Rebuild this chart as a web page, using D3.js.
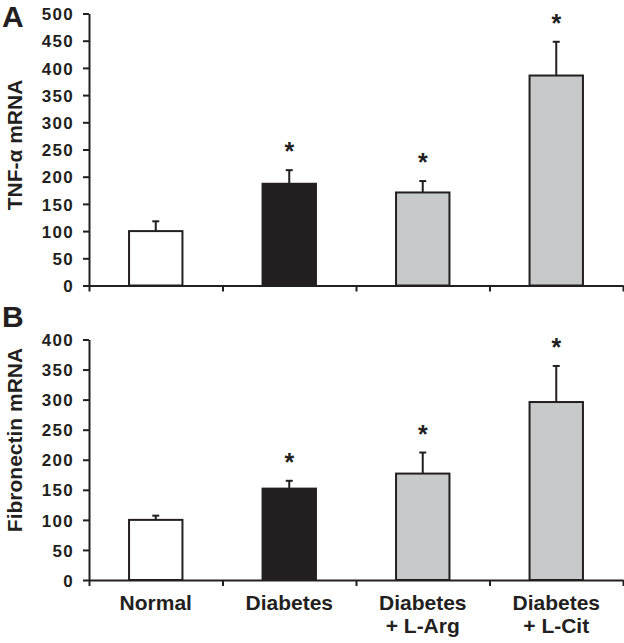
<!DOCTYPE html>
<html>
<head>
<meta charset="utf-8">
<script src="https://cdn.jsdelivr.net/npm/d3@7"></script>
<style>
  html, body { margin: 0; padding: 0; background: #fff; }
  svg { display: block; }
  text { font-family: "Liberation Sans", Arial, Helvetica, sans-serif; font-weight: bold; fill: #231f20; }
</style>
</head>
<body>
<script>
// ---- data ----
const categories = ["Normal", "Diabetes", "Diabetes\n+ L-Arg", "Diabetes\n+ L-Cit"];
const barColors = ["#ffffff", "#231f20", "#c8c9cb", "#c8c9cb"];
const tnfValues = [100, 187, 171, 386];
const tnfErrors = [18, 25, 21, 62];
const tnfSignificant = [false, true, true, true];
const fibValues = [100, 152, 177, 296];
const fibErrors = [7, 13, 35, 60];
const fibSignificant = [false, true, true, true];
const tnfTicks = [0, 50, 100, 150, 200, 250, 300, 350, 400, 450, 500];
const fibTicks = [0, 50, 100, 150, 200, 250, 300, 350, 400];
const panelLetters = ["A", "B"];
const yTitles = ["TNF-\u03b1 mRNA", "Fibronectin mRNA"];

// ---- layout ----
const W = 624, H = 643;
const ink = "#231f20";
const svg = d3.select("body").append("svg").attr("width", W).attr("height", H);

const xLeft = 89, xRight = 623;
const xBand = d3.scaleBand().domain(d3.range(categories.length))
  .range([xLeft, xRight]).paddingInner(0.6).paddingOuter(0.3);
const xEdge = d3.scaleLinear().domain([0, categories.length]).range([xLeft, xRight]);

const panels = [
  { values: tnfValues, errors: tnfErrors, sig: tnfSignificant, ticks: tnfTicks,
    top: 13.5, bottom: 285.5, letter: panelLetters[0], letterY: 27, title: yTitles[0], titleY: 145 },
  { values: fibValues, errors: fibErrors, sig: fibSignificant, ticks: fibTicks,
    top: 339.5, bottom: 580, letter: panelLetters[1], letterY: 327, title: yTitles[1], titleY: 440 }
];

panels.forEach((p, pi) => {
  const y = d3.scaleLinear().domain([0, d3.max(p.ticks)]).range([p.bottom, p.top]);
  const g = svg.append("g");

  // bars
  g.selectAll("rect.bar").data(p.values).join("rect")
    .attr("x", (d, i) => xBand(i))
    .attr("y", d => y(d))
    .attr("width", xBand.bandwidth())
    .attr("height", d => y(0) - y(d))
    .attr("fill", (d, i) => barColors[i])
    .attr("stroke", ink).attr("stroke-width", 2);

  // error bars (upper only)
  const cx = i => xBand(i) + xBand.bandwidth() / 2;
  g.selectAll("line.err").data(p.values).join("line")
    .attr("x1", (d, i) => cx(i)).attr("x2", (d, i) => cx(i))
    .attr("y1", d => y(d)).attr("y2", (d, i) => y(d + p.errors[i]))
    .attr("stroke", ink).attr("stroke-width", 2);
  g.selectAll("line.cap").data(p.values).join("line")
    .attr("x1", (d, i) => cx(i) - 3.5).attr("x2", (d, i) => cx(i) + 3.5)
    .attr("y1", (d, i) => y(d + p.errors[i])).attr("y2", (d, i) => y(d + p.errors[i]))
    .attr("stroke", ink).attr("stroke-width", 2);

  // asterisks
  g.selectAll("text.star").data(p.values.map((d, i) => ({ d, i })).filter(o => p.sig[o.i])).join("text")
    .attr("x", o => cx(o.i))
    .attr("y", o => y(o.d + p.errors[o.i]) - 24 + 14)
    .attr("text-anchor", "middle")
    .attr("font-size", 25)
    .text("*");

  // y axis
  const yAxis = g.append("g").attr("transform", `translate(${xLeft},0)`)
    .call(d3.axisLeft(y).tickValues(p.ticks).tickSizeOuter(0).tickSizeInner(6).tickPadding(9));
  yAxis.select(".domain").attr("stroke", ink).attr("stroke-width", 2);
  yAxis.selectAll(".tick line").attr("stroke", ink).attr("stroke-width", 2);
  yAxis.selectAll(".tick text")
    .attr("font-family", "'Liberation Sans', Arial, sans-serif")
    .attr("font-weight", "bold").attr("font-size", 17).attr("letter-spacing", 1.3)
    .attr("fill", ink).attr("dy", "0.36em");

  // x axis
  const xAxis = g.append("g").attr("transform", `translate(0,${p.bottom})`)
    .call(d3.axisBottom(xEdge).tickValues(d3.range(categories.length + 1))
      .tickFormat("").tickSizeOuter(0).tickSizeInner(6));
  xAxis.select(".domain").attr("stroke", ink).attr("stroke-width", 2);
  xAxis.selectAll(".tick line").attr("stroke", ink).attr("stroke-width", 2);

  // panel letter
  svg.append("text").attr("x", 2).attr("y", p.letterY)
    .attr("font-size", 30).text(p.letter);

  // y title
  svg.append("text")
    .attr("transform", `translate(${22},${p.titleY}) rotate(-90)`)
    .attr("text-anchor", "middle")
    .attr("font-size", 21)
    .text(p.title);
});

// category labels under bottom panel
const lbl = svg.append("g");
categories.forEach((c, i) => {
  const lines = c.split("\n");
  const t = lbl.append("text")
    .attr("x", xBand(i) + xBand.bandwidth() / 2)
    .attr("y", 610)
    .attr("text-anchor", "middle")
    .attr("font-size", 21);
  lines.forEach((ln, k) => {
    t.append("tspan").attr("x", xBand(i) + xBand.bandwidth() / 2)
      .attr("dy", k === 0 ? 0 : 23).text(ln);
  });
});
</script>
</body>
</html>
